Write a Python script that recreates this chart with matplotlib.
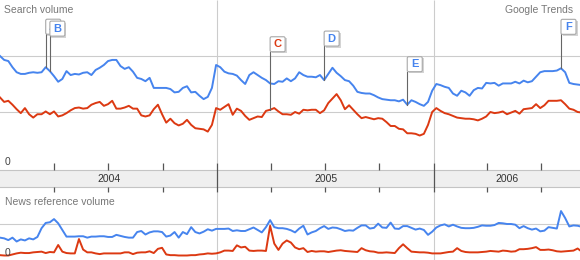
import matplotlib
matplotlib.use("Agg")
import matplotlib.pyplot as plt
import matplotlib.dates as mdates
from matplotlib.patches import FancyBboxPatch, Rectangle
from matplotlib.transforms import Affine2D, ScaledTranslation
import pandas as pd

plt.rcParams['font.family'] = ['Liberation Sans', 'DejaVu Sans']

# weekly values (scale: grid line = 1.0)
search_blue = [
    2.00, 1.93, 1.91, 1.80, 1.71, 1.68, 1.68, 1.70, 1.71, 1.70,
    1.71, 1.80, 1.73, 1.64, 1.54, 1.59, 1.73, 1.66, 1.68, 1.67,
    1.70, 1.71, 1.66, 1.75, 1.79, 1.84, 1.91, 1.93, 1.93, 1.82,
    1.77, 1.80, 1.72, 1.61, 1.59, 1.55, 1.61, 1.43, 1.43, 1.43,
    1.43, 1.41, 1.35, 1.36, 1.43, 1.46, 1.35, 1.36, 1.29, 1.23,
    1.27, 1.43, 1.84, 1.80, 1.72, 1.69, 1.68, 1.65, 1.57, 1.50,
    1.66, 1.71, 1.66, 1.61, 1.57, 1.51, 1.50, 1.55, 1.54, 1.60,
    1.55, 1.60, 1.71, 1.66, 1.63, 1.63, 1.62, 1.66, 1.57, 1.68,
    1.79, 1.70, 1.64, 1.57, 1.55, 1.47, 1.36, 1.34, 1.33, 1.33,
    1.30, 1.26, 1.23, 1.22, 1.21, 1.21, 1.19, 1.22, 1.13, 1.21,
    1.18, 1.14, 1.11, 1.18, 1.38, 1.50, 1.48, 1.45, 1.43, 1.33,
    1.29, 1.38, 1.35, 1.29, 1.39, 1.43, 1.42, 1.52, 1.51, 1.52,
    1.47, 1.51, 1.51, 1.51, 1.54, 1.51, 1.56, 1.53, 1.55, 1.63,
    1.71, 1.73, 1.73, 1.73, 1.74, 1.78, 1.71, 1.52, 1.50, 1.49,
    1.48,
]
search_red = [
    1.26, 1.18, 1.20, 1.13, 1.05, 0.98, 1.07, 0.96, 0.90, 0.96,
    0.96, 1.01, 0.96, 1.01, 0.92, 0.94, 0.98, 1.03, 1.07, 1.08,
    1.06, 1.07, 1.13, 1.16, 1.18, 1.11, 1.14, 1.20, 1.06, 1.06,
    1.08, 1.11, 1.06, 1.06, 0.94, 0.92, 0.94, 1.05, 1.13, 0.96,
    0.81, 0.88, 0.80, 0.76, 0.79, 0.86, 0.77, 0.71, 0.70, 0.69,
    0.65, 0.77, 1.07, 1.04, 1.09, 1.14, 0.95, 1.06, 1.02, 0.93,
    0.86, 0.89, 0.92, 0.91, 1.02, 1.04, 1.07, 1.01, 0.96, 0.96,
    0.95, 1.00, 0.97, 1.04, 1.03, 1.04, 1.04, 0.98, 1.03, 1.16,
    1.24, 1.32, 1.21, 1.05, 1.12, 1.04, 0.96, 0.89, 0.91, 0.89,
    0.87, 0.89, 0.88, 0.82, 0.75, 0.75, 0.70, 0.69, 0.62, 0.62,
    0.61, 0.58, 0.61, 0.77, 1.00, 1.07, 1.02, 0.98, 0.96, 0.93,
    0.90, 0.89, 0.88, 0.88, 0.87, 0.85, 0.88, 0.92, 1.00, 0.98,
    0.99, 1.01, 0.96, 0.99, 1.02, 0.97, 1.05, 1.06, 1.07, 1.14,
    1.07, 1.12, 1.20, 1.20, 1.20, 1.21, 1.14, 1.06, 1.04, 1.00,
    0.99,
]
news_blue = [
    0.61, 0.59, 0.54, 0.61, 0.50, 0.56, 0.53, 0.59, 0.56, 0.63,
    0.88, 1.03, 1.05, 1.14, 1.02, 0.83, 0.64, 0.64, 0.64, 0.65,
    0.65, 0.61, 0.64, 0.64, 0.65, 0.65, 0.63, 0.63, 0.69, 0.66,
    0.63, 0.61, 0.61, 0.77, 0.80, 0.70, 0.76, 0.79, 0.79, 0.77,
    0.64, 0.67, 0.77, 0.61, 0.77, 0.71, 0.91, 0.77, 0.73, 0.78,
    0.85, 0.81, 0.86, 0.86, 0.86, 0.87, 0.80, 0.82, 0.80, 0.80,
    0.85, 0.90, 0.83, 0.76, 0.91, 1.11, 0.91, 0.88, 0.88, 0.86,
    0.82, 0.76, 0.87, 0.95, 0.70, 0.76, 0.80, 0.88, 0.94, 0.86,
    0.90, 0.89, 0.85, 0.80, 0.82, 0.81, 0.89, 0.96, 0.96, 0.87,
    0.89, 1.01, 0.90, 0.89, 1.04, 0.87, 0.86, 0.94, 0.94, 0.89,
    0.84, 0.87, 0.83, 0.69, 0.78, 0.90, 0.96, 0.99, 0.93, 0.98,
    0.93, 0.89, 0.88, 0.88, 0.89, 0.92, 0.96, 0.95, 0.95, 0.97,
    1.03, 1.02, 1.00, 1.00, 0.98, 0.88, 0.94, 0.88, 0.84, 0.87,
    0.79, 0.81, 0.91, 0.89, 0.87, 1.37, 1.17, 0.93, 0.96, 0.95,
    0.92,
]
news_red = [
    0.11, 0.10, 0.10, 0.13, 0.16, 0.18, 0.17, 0.17, 0.19, 0.20,
    0.21, 0.17, 0.20, 0.19, 0.40, 0.21, 0.17, 0.16, 0.16, 0.57,
    0.27, 0.19, 0.19, 0.16, 0.14, 0.16, 0.16, 0.16, 0.16, 0.16,
    0.19, 0.19, 0.14, 0.18, 0.19, 0.19, 0.22, 0.17, 0.29, 0.32,
    0.13, 0.11, 0.11, 0.10, 0.10, 0.10, 0.11, 0.11, 0.13, 0.14,
    0.16, 0.15, 0.16, 0.19, 0.24, 0.24, 0.23, 0.39, 0.33, 0.35,
    0.24, 0.23, 0.24, 0.24, 0.23, 0.95, 0.44, 0.26, 0.44, 0.53,
    0.47, 0.33, 0.28, 0.31, 0.20, 0.23, 0.21, 0.22, 0.22, 0.20,
    0.22, 0.24, 0.25, 0.23, 0.22, 0.21, 0.20, 0.31, 0.25, 0.22,
    0.21, 0.18, 0.18, 0.19, 0.18, 0.17, 0.31, 0.42, 0.31, 0.21,
    0.20, 0.19, 0.19, 0.18, 0.16, 0.16, 0.16, 0.18, 0.20, 0.21,
    0.31, 0.23, 0.20, 0.19, 0.19, 0.19, 0.20, 0.21, 0.23, 0.22,
    0.21, 0.24, 0.23, 0.21, 0.22, 0.28, 0.28, 0.29, 0.31, 0.34,
    0.26, 0.26, 0.27, 0.25, 0.22, 0.21, 0.22, 0.23, 0.24, 0.30,
    0.21,
]

weeks = pd.date_range('2004-01-01', periods=len(search_blue), freq='7D')
year_labels = ['2004', '2005', '2006']
year_starts = ['2004-01-01', '2005-01-01', '2006-01-01']
quarter_ticks = ['2004-04-01', '2004-07-01', '2004-10-01',
                 '2005-04-01', '2005-07-01', '2005-10-01',
                 '2006-04-01', '2006-07-01']
# letter, week index, series, stem length (px)
flags = [('A', 11, 'blue', 33), ('B', 12, 'blue', 35), ('C', 65, 'red', 58),
         ('D', 78, 'blue', 34), ('E', 98, 'blue', 33), ('F', 135, 'blue', 34)]

BLUE = '#4684ee'
RED = '#dc3912'
GRID = '#cccccc'

W, H = 580, 260
xs = mdates.date2num(weeks.to_pydatetime())
x0 = mdates.date2num(pd.Timestamp('2004-01-01'))
x1 = mdates.date2num(pd.Timestamp('2006-09-04'))
ys = mdates.date2num(pd.to_datetime(year_starts).to_pydatetime())
qs = mdates.date2num(pd.to_datetime(quarter_ticks).to_pydatetime())

fig = plt.figure(figsize=(W / 100, H / 100), dpi=100)

# background layer in pixel rows (y grows downward)
bg = fig.add_axes([0, 0, 1, 1])
bg.set_xlim(x0, x1)
bg.set_ylim(H, 0)
bg.axis('off')
bg.axhspan(169.5, 186.5, color='#efefef', lw=0)
bg.axhline(169.5, color='#c4c4c4', lw=0.8)
bg.axhline(186.5, color='#c4c4c4', lw=0.8)
bg.vlines(ys[1:], 0, 163, color=GRID, lw=0.8)
bg.vlines(ys[1:], 192, H, color=GRID, lw=0.8)
bg.vlines(ys[1:], 163, 192, color='#555555', lw=0.9)
bg.vlines(qs, 163, 169.5, color='#555555', lw=0.9)
bg.vlines(qs, 186.5, 192, color='#555555', lw=0.9)

# year labels centred in the visible part of each year
bounds = list(ys) + [x1]
for i, lab in enumerate(year_labels):
    bg.text((bounds[i] + bounds[i + 1]) / 2, 179, lab, ha='center', va='center',
            fontsize=7.5, color='#333333')

# search volume panel
top = fig.add_axes([0, 1 - 169 / H, 1, 169 / H])
top.patch.set_alpha(0)
top.axis('off')
top.axhline(1, color=GRID, lw=0.8, zorder=1)
top.axhline(2, color=GRID, lw=0.8, zorder=1)
top.plot(xs, search_blue, color=BLUE, lw=1.4, zorder=3, solid_joinstyle='round')
top.plot(xs, search_red, color=RED, lw=1.4, zorder=3, solid_joinstyle='round')


def draw_flag(ax, letter, x, y, stem, color, z):
    tr = Affine2D() + ScaledTranslation(x, y, ax.transData)
    ax.plot([0, 0], [0, stem], transform=tr, color='#666666', lw=0.8,
            zorder=z, clip_on=False)
    ax.add_patch(Rectangle((1.5, stem - 1.5), 15, 15, transform=tr,
                           fc='#d4d4d4', ec='none', zorder=z, clip_on=False))
    ax.add_patch(FancyBboxPatch((0, stem), 15, 15, transform=tr,
                                boxstyle='round,pad=0,rounding_size=1.5',
                                fc='white', ec='#a8a8a8', lw=0.8, zorder=z,
                                clip_on=False))
    ax.text(7.5, stem + 7.5, letter, transform=tr, ha='center', va='center',
            fontsize=8, fontweight='bold', color=color, zorder=z + 0.5,
            clip_on=False)


series = {'blue': (search_blue, BLUE), 'red': (search_red, RED)}
for n, (letter, idx, key, stem) in enumerate(flags):
    vals, col = series[key]
    draw_flag(top, letter, xs[idx], vals[idx], stem, col, 5 + n)
top.set_xlim(x0, x1)
top.set_ylim(-1 / 56, 168 / 56)

# news reference panel
bot = fig.add_axes([0, 0, 1, (H - 187) / H])
bot.patch.set_alpha(0)
bot.axis('off')
bot.axhline(1, color=GRID, lw=0.8, zorder=1)
bot.plot(xs, news_blue, color=BLUE, lw=1.4, zorder=3, solid_joinstyle='round')
bot.plot(xs, news_red, color=RED, lw=1.4, zorder=3, solid_joinstyle='round')
bot.set_xlim(x0, x1)
bot.set_ylim(-1 / 35, 72 / 35)


def ftext(x, y, s, **kw):
    fig.text(x / W, 1 - y / H, s, va='center', fontsize=7.5, **kw)


ftext(4, 10, 'Search volume', ha='left', color='#777777')
ftext(573, 10, 'Google Trends', ha='right', color='#777777')
ftext(5, 162, '0', ha='left', color='#444444')
ftext(5, 202, 'News reference volume', ha='left', color='#777777')
ftext(5, 253, '0', ha='left', color='#444444')

fig.savefig('out.png', dpi=100)
